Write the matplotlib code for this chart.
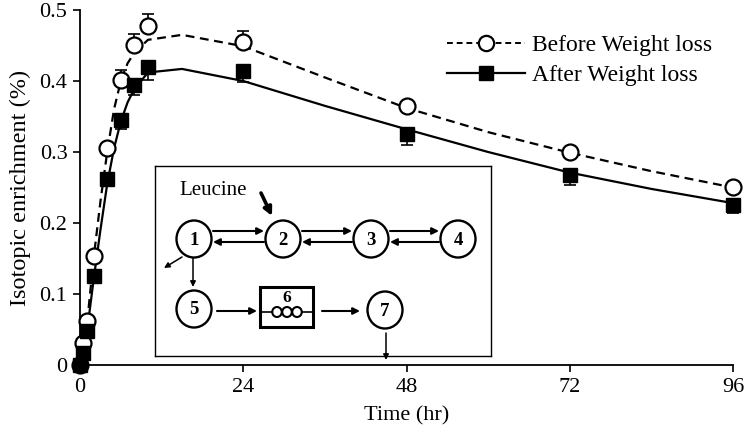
import matplotlib
matplotlib.use("Agg")
import matplotlib.pyplot as plt
from matplotlib.patches import Ellipse, Rectangle, FancyArrowPatch

plt.rcParams["font.family"] = ["Liberation Serif", "DejaVu Serif"]

# measured points (hr, %)
time = [0, 0.5, 1, 2, 4, 6, 8, 10, 24, 48, 72, 96]
before = [0, 0.031, 0.062, 0.154, 0.305, 0.401, 0.450, 0.477, 0.455, 0.365, 0.300, 0.251]
before_err = [0, 0.003, 0.003, 0.005, 0.008, 0.015, 0.016, 0.018, 0.016, 0.006, 0.006, 0.005]
after = [0, 0.017, 0.048, 0.126, 0.262, 0.345, 0.395, 0.420, 0.414, 0.325, 0.268, 0.226]
after_err = [0, 0.003, 0.004, 0.006, 0.008, 0.012, 0.015, 0.018, 0.016, 0.015, 0.014, 0.012]

# model fit curves
model_t = [0, 0.5, 1, 2, 3, 4, 5, 6, 7, 8, 10, 15, 24, 36, 48, 60, 72, 84, 96]
model_before = [0, 0.02, 0.055, 0.15, 0.23, 0.30, 0.36, 0.40, 0.425, 0.44, 0.458, 0.465,
                0.449, 0.405, 0.362, 0.328, 0.299, 0.273, 0.25]
model_after = [0, 0.015, 0.045, 0.12, 0.19, 0.255, 0.305, 0.343, 0.37, 0.389, 0.412, 0.417,
               0.40, 0.365, 0.332, 0.30, 0.271, 0.248, 0.228]

xticks = [0, 24, 48, 72, 96]
yticks = [0, 0.1, 0.2, 0.3, 0.4, 0.5]
ytick_labels = ["0", "0.1", "0.2", "0.3", "0.4", "0.5"]

W, H = 745, 437
fig = plt.figure(figsize=(W / 100, H / 100), dpi=100)
ax = fig.add_axes([80 / W, 1 - 365 / H, 653 / W, 355 / H])

ax.plot(model_t, model_before, "k--", lw=1.6, dashes=(4, 2.5), zorder=2)
ax.plot(model_t, model_after, "k-", lw=1.6, zorder=2)

lo = [0] * len(time)
ax.errorbar(time, before, yerr=[lo, before_err], fmt="none", ecolor="k",
            elinewidth=1.2, capsize=4, capthick=1.2, zorder=3, clip_on=False)
ax.errorbar(time, after, yerr=[after_err, lo], fmt="none", ecolor="k",
            elinewidth=1.2, capsize=4, capthick=1.2, zorder=3, clip_on=False)
ax.plot(time, before, "o", ms=11.5, mfc="white", mec="k", mew=1.6, zorder=4, clip_on=False)
ax.plot(time, after, "s", ms=10, mfc="k", mec="k", zorder=5, clip_on=False)

# legend proxies
ax.plot([], [], "k--", lw=1.4, dashes=(3, 2), marker="o", ms=11, mfc="white",
        mec="k", mew=1.6, label="Before Weight loss")
ax.plot([], [], "k-", lw=1.6, marker="s", ms=10, mfc="k", label="After Weight loss")
ax.legend(loc="upper right", bbox_to_anchor=(1.0, 0.99), frameon=False, fontsize=17,
          handlelength=3.3, handletextpad=0.3, labelspacing=0.35)

ax.set_xlim(0, 96)
ax.set_ylim(0, 0.5)
ax.set_xticks(xticks)
ax.set_yticks(yticks)
ax.set_yticklabels(ytick_labels)
ax.tick_params(labelsize=16, width=1.2, length=5, direction="out", pad=4)
for s in ["top", "right"]:
    ax.spines[s].set_visible(False)
for s in ["left", "bottom"]:
    ax.spines[s].set_linewidth(1.3)
ax.set_xlabel("Time (hr)", fontsize=16)
ax.xaxis.set_label_coords(0.5, -0.115)
ax.set_ylabel("Isotopic enrichment (%)", fontsize=17.5, labelpad=6)

# inset: compartment model diagram (pixel-like coordinates)
ins = fig.add_axes([155 / W, 1 - 356 / H, 336 / W, 190 / H])
ins.set_xlim(155, 491)
ins.set_ylim(356, 166)
ins.set_xticks([])
ins.set_yticks([])
for s in ins.spines.values():
    s.set_linewidth(1.0)

def node(x, y, label):
    ins.add_patch(Ellipse((x, y), 35, 37, fill=False, lw=1.7, ec="k"))
    ins.text(x, y + 1, label, ha="center", va="center", fontsize=13.5, fontweight="bold")

def arrow(x0, y0, x1, y1, lw=1.5, ms=10, clip=True):
    a = FancyArrowPatch((x0, y0), (x1, y1), arrowstyle="-|>", mutation_scale=ms,
                        lw=lw, color="k", shrinkA=0, shrinkB=0)
    a.set_clip_on(clip)
    ins.add_patch(a)

nodes = {"1": (194, 239), "2": (283, 239), "3": (371, 239), "4": (458, 239),
         "5": (194, 309), "7": (385, 310)}
for k, (x, y) in nodes.items():
    node(x, y, k)

for a, b in [("1", "2"), ("2", "3"), ("3", "4")]:
    xa = nodes[a][0] + 19
    xb = nodes[b][0] - 19
    arrow(xa, 231, xb, 231)
    arrow(xb, 242, xa, 242)

ins.text(213, 190, "Leucine", ha="center", va="center", fontsize=15)
arrow(261, 193, 272, 216, lw=2.6, ms=12)
arrow(182, 257, 164, 268, lw=1.1, ms=8)
arrow(193, 258, 193, 287, lw=1.1, ms=8)
arrow(217, 311, 257, 311)
ins.add_patch(Rectangle((260, 287), 53, 40, fill=False, lw=2.2, ec="k"))
ins.plot([260, 313], [312, 312], "k-", lw=1.2)
for cx in [277, 287, 297]:
    ins.add_patch(Ellipse((cx, 312), 9.5, 10, fc="white", ec="k", lw=1.5, zorder=3))
ins.text(287, 298, "6", ha="center", va="center", fontsize=12.5, fontweight="bold")
arrow(322, 311, 360, 311)
arrow(386, 333, 386, 360, lw=1.1, ms=8, clip=False)

fig.savefig("out.png", dpi=100)
